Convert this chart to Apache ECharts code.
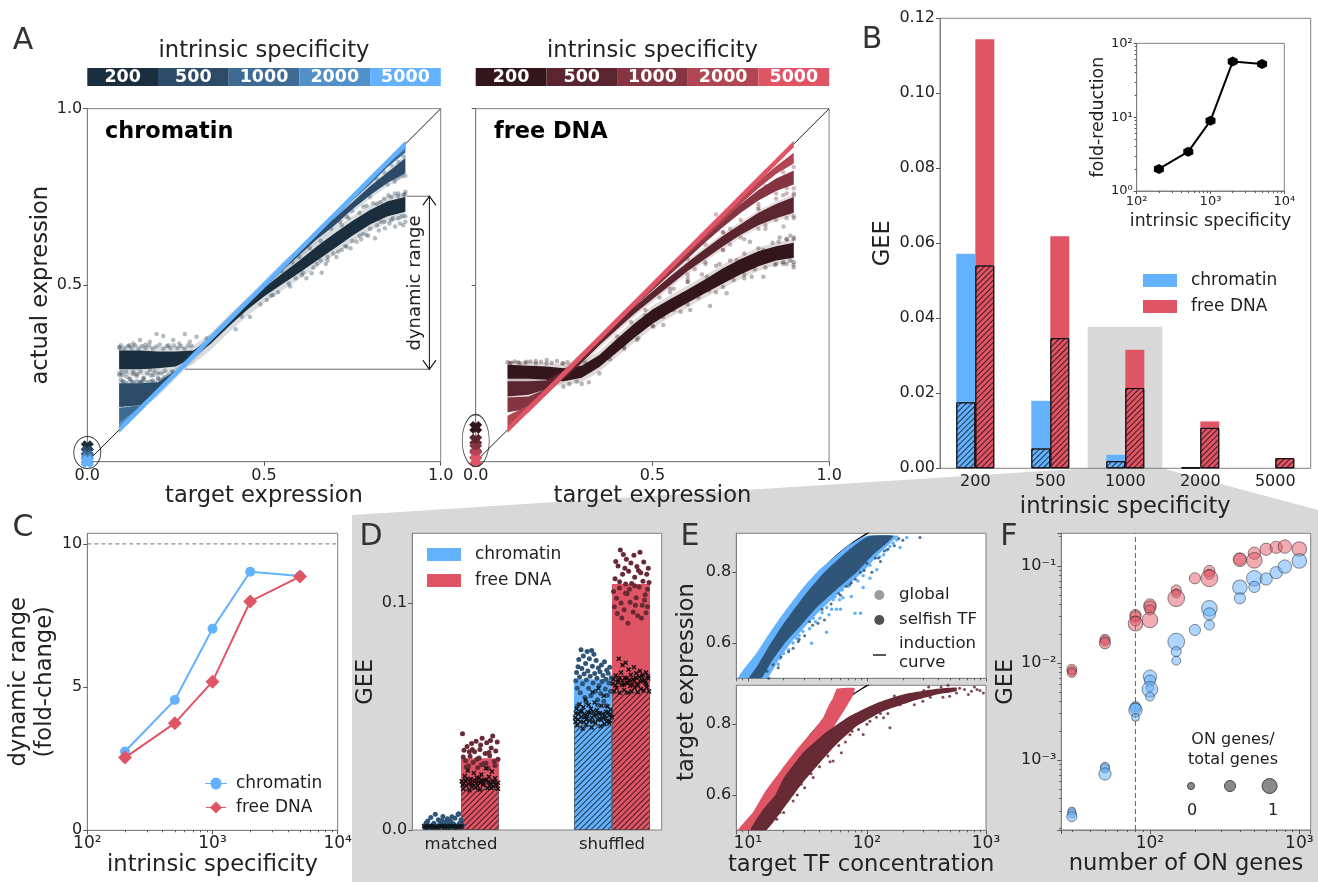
<!DOCTYPE html>
<html><head><meta charset="utf-8">
<style>html,body{margin:0;padding:0;background:#fff}#c{width:1318px;height:882px}</style>
<script src="https://cdn.jsdelivr.net/npm/echarts@6/dist/echarts.min.js"></script>
</head><body><div id="c"></div>
<script>
// ---------- DATA ----------
const specificity = ['200','500','1000','2000','5000'];
const specificityNum = [200,500,1000,2000,5000];
const blues = ['#1a2e3d','#2c4b68','#3e6b94','#5290c9','#64b1fd'];
const reds  = ['#33161b','#5a252e','#853541','#b14552','#e05566'];
const BLUE = '#64b1fd', RED = '#e05566', DARKB = '#2f5578', DARKR = '#682b35';

// Panel A: target-expression stations and the read-off dense band edges
const tx = [0.09,0.15,0.2,0.25,0.3,0.35,0.4,0.45,0.5,0.55,0.6,0.65,0.7,0.75,0.8,0.85,0.9];
const chrom200lo = [0.262,0.262,0.265,0.27,0.295,0.335,0.383,0.428,0.468,0.502,0.535,0.57,0.605,0.64,0.672,0.695,0.708];
const chrom200hi = [0.315,0.315,0.312,0.312,0.315,0.35,0.4,0.447,0.492,0.532,0.57,0.61,0.647,0.682,0.713,0.738,0.75];
const chrom500lo = [0.155,0.16,0.195,0.245,0.295,0.345,0.395,0.445,0.49,0.54,0.585,0.63,0.67,0.715,0.755,0.79,0.817];
const chrom500hi = [0.222,0.222,0.225,0.258,0.305,0.355,0.405,0.455,0.505,0.555,0.6,0.65,0.69,0.735,0.78,0.82,0.86];
const chrom1000lo = [0.105,0.145,0.195,0.245,0.295,0.345,0.395,0.445,0.495,0.545,0.595,0.645,0.69,0.74,0.785,0.835,0.875];
const chrom1000hi = [0.152,0.16,0.205,0.255,0.305,0.355,0.405,0.455,0.505,0.555,0.605,0.655,0.7,0.75,0.8,0.85,0.895];
const chrom2000lo = [0.09,0.145,0.195,0.245,0.295,0.345,0.395,0.445,0.495,0.545,0.595,0.645,0.695,0.745,0.795,0.845,0.885];
const chrom2000hi = [0.11,0.155,0.205,0.255,0.305,0.355,0.405,0.455,0.505,0.555,0.605,0.655,0.705,0.755,0.805,0.855,0.9];
const chrom5000lo = [0.081,0.141,0.191,0.241,0.291,0.341,0.391,0.441,0.491,0.541,0.591,0.641,0.691,0.741,0.791,0.841,0.891];
const chrom5000hi = [0.099,0.159,0.209,0.259,0.309,0.359,0.409,0.459,0.509,0.559,0.609,0.659,0.709,0.759,0.809,0.859,0.909];
const free200lo = [0.235,0.235,0.232,0.228,0.238,0.268,0.31,0.352,0.391,0.422,0.45,0.478,0.505,0.531,0.554,0.57,0.578];
const free200hi = [0.275,0.272,0.27,0.265,0.272,0.302,0.348,0.392,0.431,0.46,0.488,0.517,0.548,0.574,0.596,0.61,0.62];
const free500lo = [0.185,0.19,0.205,0.235,0.28,0.33,0.375,0.42,0.46,0.5,0.54,0.575,0.61,0.643,0.67,0.69,0.705];
const free500hi = [0.228,0.228,0.23,0.26,0.3,0.35,0.395,0.44,0.482,0.525,0.565,0.603,0.64,0.673,0.705,0.73,0.75];
const free1000lo = [0.14,0.15,0.19,0.24,0.29,0.34,0.39,0.44,0.485,0.53,0.575,0.622,0.665,0.705,0.74,0.767,0.785];
const free1000hi = [0.182,0.185,0.207,0.255,0.305,0.355,0.4,0.45,0.5,0.547,0.595,0.643,0.69,0.73,0.77,0.802,0.825];
const free2000lo = [0.095,0.14,0.19,0.24,0.29,0.34,0.39,0.44,0.49,0.54,0.59,0.635,0.682,0.73,0.775,0.815,0.845];
const free2000hi = [0.13,0.16,0.207,0.257,0.307,0.355,0.405,0.455,0.505,0.555,0.605,0.655,0.703,0.75,0.795,0.837,0.875];
const free5000lo = chrom5000lo, free5000hi = chrom5000hi;
const chromOff = [0.042,0.028,0.016,0.006,0.0];
const freeOff  = [0.097,0.061,0.038,0.019,0.003];
const chromSpeckle = [[.149,.345],[.196,.362],[.215,.356],[.276,.362],[.309,.354],[.338,.349],[.092,.321],[.13,.335],[.177,.34],[.243,.345],[.29,.34],[.111,.241],[.158,.236],[.206,.231],[.243,.25],[.13,.255],[.177,.26],[.092,.245],[.225,.236],[.149,.227],[.102,.227],[.187,.245],[.663,.535],[.635,.534],[.607,.529],[.574,.496],[.526,.472],[.508,.458],[.437,.411],[.734,.609],[.762,.623],[.814,.633],[.842,.661],[.871,.666],[.894,.67],[.79,.642],[.696,.59],[.715,.68],[.734,.694],[.809,.732],[.852,.755],[.88,.751],[.899,.758],[.781,.722],[.12,.33],[.165,.332],[.23,.33],[.26,.335],[.098,.255],[.14,.248],[.2,.25],[.105,.27],[.62,.52],[.65,.56],[.68,.57],[.72,.6],[.77,.64],[.83,.68],[.865,.69],[.89,.695],
[.42,.375],[.46,.41],[.49,.445],[.52,.47],[.54,.48],[.57,.505],[.59,.52],[.61,.535],[.64,.55],[.66,.57],[.68,.58],[.71,.595],[.73,.61],[.75,.625],[.78,.645],[.8,.66],[.82,.67],[.84,.68],[.86,.685],[.88,.69],[.9,.695],[.9,.68],[.885,.675],[.855,.675],[.825,.655],[.795,.64],[.775,.63],[.745,.605],[.705,.58],[.675,.56],
[.55,.54],[.58,.565],[.6,.58],[.63,.605],[.66,.625],[.69,.66],[.72,.67],[.74,.69],[.77,.705],[.79,.725],[.82,.73],[.84,.745],[.86,.75],[.88,.76],[.9,.765],[.895,.755],[.87,.76],[.83,.735],
[.09,.325],[.095,.33],[.105,.32],[.115,.328],[.125,.322],[.135,.33],[.145,.32],[.155,.328],[.165,.322],[.175,.33],[.185,.32],[.195,.326],[.205,.332],[.215,.32],[.225,.328],[.235,.322],[.245,.33],[.255,.322],[.265,.328],[.275,.32],[.285,.33],[.295,.328],
[.09,.25],[.1,.245],[.11,.255],[.12,.235],[.13,.248],[.14,.242],[.15,.255],[.16,.238],[.17,.25],[.18,.244],[.19,.256],[.2,.238],[.21,.25],[.22,.258],[.23,.244],[.24,.256],[.25,.252],[.095,.232],[.125,.228],[.155,.225],[.185,.23],[.215,.235]];
const chrom500Speckle = [[.1,.228],[.12,.235],[.14,.228],[.16,.232],[.18,.228],[.2,.235],[.22,.24],[.11,.222],[.13,.226],[.15,.224],[.17,.226],[.19,.224],[.1,.15],[.115,.148],[.13,.152],[.145,.15],[.87,.8],[.88,.805],[.89,.81],[.9,.81],[.895,.865],[.88,.85],[.86,.84],[.84,.82],[.82,.8],[.8,.75],[.77,.74],[.75,.71],[.85,.785],[.87,.793]];
const freeSpeckle = [[.663,.441],[.71,.477],[.781,.524],[.814,.524],[.847,.557],[.899,.557],[.607,.43],[.531,.387],[.503,.382],[.456,.345],[.857,.623],[.814,.6],[.739,.571],[.654,.524],[.588,.472],[.776,.623],[.248,.212],[.286,.227],[.324,.26],[.097,.279],[.144,.283],[.201,.288],[.248,.279],[.12,.282],[.17,.285],[.3,.22],[.265,.22],[.37,.3],[.42,.325],[.48,.415],[.55,.48],[.6,.51],[.69,.56],[.88,.63],[.9,.63],[.87,.56],
[.32,.225],[.35,.25],[.38,.29],[.42,.32],[.46,.35],[.5,.385],[.53,.41],[.56,.43],[.6,.445],[.63,.465],[.66,.485],[.7,.495],[.73,.515],[.76,.53],[.79,.545],[.82,.55],[.85,.56],[.87,.565],[.89,.57],[.9,.565],[.9,.55],[.88,.56],[.76,.52],[.68,.48],[.58,.425],
[.4,.355],[.44,.395],[.48,.43],[.52,.465],[.56,.49],[.6,.51],[.64,.53],[.68,.555],[.72,.57],[.76,.59],[.8,.605],[.84,.62],[.88,.63],[.9,.635],[.89,.64],[.86,.635],
[.09,.282],[.1,.28],[.11,.284],[.125,.278],[.14,.28],[.155,.284],[.17,.278],[.185,.283],[.2,.278],[.215,.28],[.23,.285],[.245,.278],[.26,.282],[.275,.275],[.29,.278],[.31,.28]];
const free500Speckle = [[.871,.666],[.9,.69],[.82,.66],[.76,.63],[.7,.6],[.65,.56],[.6,.52],[.7,.65],[.8,.72],[.88,.76],[.9,.755],[.55,.49],[.6,.53],[.65,.565],[.7,.6],[.75,.635],[.8,.66],[.85,.685],[.9,.695],[.88,.69],[.82,.67],[.72,.615],[.62,.545],[.6,.575],[.65,.615],[.7,.65],[.75,.685],[.8,.715],[.85,.745],[.9,.76],[.87,.755]];
const free1000Speckle = [[.85,.76],[.88,.775],[.9,.775],[.9,.835],[.87,.82],[.82,.78],[.78,.74],[.8,.73],[.72,.66],[.75,.745],[.68,.7]];

// Panel B
const gee_chrom_global = [0.0572,0.0180,0.0036,0.0002,0];
const gee_chrom_selfish = [0.0176,0.0053,0.0019,0.0002,0];
const gee_free_global = [0.1144,0.0619,0.0316,0.0125,0.0027];
const gee_free_selfish = [0.0541,0.0347,0.0214,0.0108,0.0027];
const foldReduction = [1.99,3.41,8.97,56.5,52.5];

// Panel C
const rangeChromatin = [2.75,4.55,7.04,9.03,8.88];
const rangeFree = [2.54,3.74,5.19,7.99,8.86];

// Panel D
const dCats = ['matched','shuffled'];
const dChromGlobal = [0.003,0.0665], dChromSelfish = [0.0007,0.0463];
const dFreeGlobal = [0.0316,0.1085], dFreeSelfish = [0.0184,0.061];
const dDotsBlue = [[-.24,.002],[-.22,.004],[-.21,.0015],[-.2,.0055],[-.18,.003],[-.17,.007],[-.16,.0012],[-.15,.0045],[-.13,.0025],[-.12,.006],[-.11,.002],[-.1,.0035],[-.09,.005],[-.08,.0015],[-.07,.004],[-.05,.0028],[-.04,.0052],[-.03,.0016],[-.02,.0068],[-.01,.003],[0,.0045],[.01,.002],[-.23,.0032],[-.19,.0018],[-.14,.0038],[-.06,.0058],[-.015,.0072],[-.235,.0012],[-.125,.0042],[-.075,.0024],
[.76,.0658],[.765,.0695],[.77,.0625],[.775,.072],[.78,.0752],[.785,.0675],[.79,.0605],[.795,.0795],[.8,.0712],[.805,.0645],[.81,.0768],[.815,.0688],[.82,.0585],[.825,.0735],[.83,.0662],[.835,.0788],[.84,.0702],[.845,.0625],[.85,.0755],[.855,.0678],[.86,.0592],[.865,.0792],[.87,.0722],[.875,.0648],[.88,.0775],[.885,.069],[.89,.0612],[.895,.0748],[.9,.067],[.905,.0575],[.91,.0715],[.915,.0638],[.92,.0698],[.925,.0602],[.93,.0728],[.935,.0655],[.94,.0682],[.945,.0568],[.95,.0742],[.955,.0622],[.96,.0665],[.965,.0705],[.97,.0595],[.975,.0692],[.98,.0648],[.985,.0718],[.99,.0612],[.995,.0672],[.772,.0548],[.83,.0562],[.905,.0552],[.962,.0548]];
const dDotsRed = [[.01,.0425],[.02,.0352],[.03,.0305],[.04,.0368],[.05,.0282],[.06,.0325],[.07,.0382],[.08,.0298],[.09,.0345],[.1,.0392],[.11,.0275],[.12,.0318],[.13,.0375],[.14,.0405],[.15,.0292],[.16,.0338],[.17,.0385],[.18,.0272],[.19,.0328],[.2,.0362],[.21,.0415],[.22,.0302],[.23,.0348],[.24,.0388],[.245,.0312],[.035,.0278],[.075,.0355],[.105,.0312],[.135,.0288],[.165,.0295],[.195,.0395],[.225,.0285],[.015,.0322],[.055,.0345],[.125,.0355],[.185,.0342],
[1.01,.1052],[1.015,.0985],[1.02,.1108],[1.03,.1022],[1.035,.0955],[1.04,.1165],[1.05,.1068],[1.055,.1235],[1.06,.1002],[1.07,.1128],[1.075,.1215],[1.08,.0972],[1.09,.1085],[1.095,.1195],[1.1,.1042],[1.105,.0912],[1.11,.1142],[1.12,.1005],[1.125,.1178],[1.13,.1088],[1.14,.0962],[1.145,.1212],[1.15,.1115],[1.16,.1025],[1.165,.1162],[1.17,.0945],[1.18,.1072],[1.185,.1225],[1.19,.1135],[1.2,.0992],[1.205,.1098],[1.21,.1182],[1.22,.1038],[1.225,.0958],[1.23,.1128],[1.235,.1062],[1.24,.1155],[1.245,.1092],[1.05,.1095],[1.085,.1155],[1.115,.1062],[1.15,.1078],[1.175,.1145],[1.215,.1015],[1.065,.0935],[1.195,.0935],[1.025,.1185],[1.09,.1045],[1.155,.0992],[1.235,.0985]];
const dCrossBlue = [[-.245,.0016],[-.225,.0014],[-.205,.0019],[-.185,.0013],[-.165,.0017],[-.145,.0015],[-.125,.0018],[-.105,.0013],[-.085,.0016],[-.065,.0014],[-.045,.0018],[-.025,.0015],[-.005,.0017],[-.235,.0013],[-.195,.0016],[-.155,.0013],[-.115,.0016],[-.075,.0018],[-.035,.0013],[.005,.0015],[-.215,.0017],[-.175,.0014],[-.135,.0016],[-.095,.0015],[-.055,.0016],[-.015,.0014],
[.755,.0495],[.765,.0535],[.77,.0462],[.78,.0512],[.785,.0555],[.79,.0478],[.8,.0525],[.805,.0448],[.81,.0542],[.82,.0498],[.825,.0575],[.83,.0465],[.84,.0518],[.845,.0552],[.85,.0482],[.86,.0535],[.865,.0452],[.87,.0608],[.88,.0505],[.885,.0562],[.89,.0472],[.9,.0528],[.905,.0488],[.91,.0625],[.92,.0515],[.925,.0458],[.93,.0548],[.94,.0495],[.945,.0592],[.95,.0468],[.96,.0522],[.965,.0478],[.97,.0545],[.98,.0505],[.985,.0482],[.99,.0532],[.998,.0498],
[.76,.0515],[.775,.0488],[.788,.0522],[.797,.0498],[.815,.0512],[.828,.0488],[.838,.0502],[.852,.0518],[.868,.0495],[.875,.0522],[.893,.0508],[.908,.0515],[.918,.0492],[.935,.0512],[.952,.0505],[.958,.0492],[.975,.0518],[.992,.0512],[.758,.0478],[.812,.0475],[.872,.0478],[.928,.0485],[.982,.0472]];
const dCrossRed = [[.005,.0215],[.015,.0182],[.025,.0238],[.035,.0195],[.045,.0262],[.055,.0175],[.065,.0225],[.075,.0205],[.085,.0252],[.095,.0188],[.105,.0232],[.115,.0212],[.125,.0178],[.135,.0245],[.145,.0198],[.155,.0222],[.165,.0272],[.175,.0185],[.185,.0235],[.195,.0208],[.205,.0258],[.215,.0192],[.225,.0228],[.235,.0202],[.245,.0182],[.02,.0205],[.06,.0212],[.1,.0205],[.14,.0218],[.18,.0212],[.22,.0212],
[.01,.0198],[.03,.0218],[.05,.0202],[.07,.0192],[.09,.0218],[.11,.0195],[.13,.0208],[.15,.0205],[.17,.0222],[.19,.0195],[.21,.0215],[.23,.0198],[.245,.0208],[.04,.0225],[.12,.0228],[.2,.0185],
[1.005,.0645],[1.015,.0612],[1.025,.0682],[1.03,.0628],[1.04,.0662],[1.045,.0755],[1.05,.0605],[1.06,.0695],[1.065,.064],[1.07,.0728],[1.08,.0618],[1.085,.0672],[1.09,.0738],[1.1,.065],[1.105,.0605],[1.11,.0708],[1.12,.0635],[1.125,.0685],[1.13,.0612],[1.14,.0665],[1.145,.0718],[1.15,.0628],[1.16,.0692],[1.165,.0645],[1.17,.0608],[1.18,.0675],[1.185,.0702],[1.19,.0622],[1.2,.0658],[1.205,.0685],[1.21,.0615],[1.22,.0648],[1.225,.0695],[1.23,.063],[1.24,.0668],[1.245,.0612],
[1.01,.0665],[1.022,.0638],[1.038,.0652],[1.052,.0672],[1.068,.0658],[1.078,.0642],[1.095,.0668],[1.108,.0648],[1.118,.0662],[1.135,.0642],[1.148,.0658],[1.158,.0672],[1.172,.0638],[1.188,.0655],[1.198,.0678],[1.215,.0662],[1.228,.0642],[1.238,.0678]];

// Panel E (concentration, expression)
const inductionC = [10,12,15,20,30,40,50,70,100,120];
const inductionY = [0.5,0.545,0.6,0.667,0.75,0.8,0.833,0.875,0.909,0.923];
const eTopGlobal = [[8.3,.5],[11.8,.571],[14,.61],[19,.675],[28,.75],[38,.8],[50,.835],[70,.876],[99.4,.903],[185,.903],[160,.885],[125,.85],[92,.8],[62,.75],[43,.7],[31,.65],[23,.6],[18,.55],[14.5,.5]];
const eTopSelfish = [[10,.495],[12,.535],[15,.59],[20,.655],[30,.735],[40,.785],[50,.818],[70,.862],[90,.89],[106,.903],[166,.903],[146,.882],[113,.85],[82,.8],[55,.75],[37.8,.7],[28,.65],[20.5,.6],[16,.55],[13,.5]];
const eTopScatterGlobal = [[34.3,.599],[45.8,.63],[55.5,.695],[60,.695],[50.5,.695],[79.4,.684],[88.4,.684],[93,.757],[106,.783],[121,.807],[128,.844],[216,.898],[166,.882],[190,.87],[146,.863],[138,.849],[35.4,.67],[40.3,.67],[29,.632],[25.7,.613],[18.6,.557],[63,.728],[74,.731],[52,.722],[59,.722],[106,.82],[93,.79],[156,.873],[178,.891],[70,.76],[84,.775],[48,.68],[33,.64],[22,.58],[14,.52],[13,.51],[18,.54],[20,.57],[24,.6],[27,.62],[37,.66],[42,.685],[46,.7],[54,.73],[62,.75],[68,.77],[78,.785],[90,.81],[100,.83],[116,.84],[135,.87]];
const eTopScatterSelfish = [[279,.898],[38.8,.656],[26.5,.604],[16.3,.538],[60,.735],[110,.8],[130,.83],[170,.875],[200,.89],[44,.665],[30,.62],[19,.56],[14.5,.52],[15,.5],[74,.77],[88,.8],[100,.825],[24,.585],[35,.65],[50,.71],[67,.76],[80,.78],[125,.84],[150,.865],[185,.895],[18,.53],[22,.575],[27,.61],[33,.66],[42,.695],[58,.74],[72,.765],[95,.805],[118,.84],[140,.86]];
const eBotGlobal = [[8.3,.5],[11,.55],[14,.61],[19,.67],[26,.73],[35,.78],[43,.82],[48,.855],[52,.875],[56,.9],[79,.902],[76,.88],[62,.83],[50,.78],[38,.72],[28,.66],[20,.6],[14.5,.54],[11.5,.5]];
const eBotSelfish = [[10.5,.5],[13.5,.56],[17,.6],[19.8,.645],[29,.719],[43,.771],[72,.823],[121,.86],[201,.884],[386,.9],[565,.904],[565,.893],[386,.884],[230,.863],[138,.837],[82,.794],[55.5,.743],[40.3,.691],[29,.635],[19.8,.56],[14.3,.5]];
const eBotScatterSelfish = [[950,.888],[840,.898],[755,.893],[710,.884],[660,.898],[565,.888],[435,.876],[340,.876],[156,.79],[93,.771],[61,.719],[52,.696],[49,.694],[35.4,.649],[24,.583],[18.6,.55],[17.5,.531],[106,.808],[138,.818],[230,.874],[295,.865],[495,.879],[600,.902],[800,.905],[890,.895],[420,.905],[300,.895],[170,.88],[250,.855],[120,.82],[75,.78],[45,.72],[30,.62],[28,.63],[40,.68],[66,.75],[85,.785],[150,.83],[190,.855],[330,.905],[480,.91],[20,.55],[26,.6],[34,.66],[47,.71],[58,.74],[72,.77],[100,.8],[130,.83]];

// Panel F (ON genes, GEE, marker size)
const fRed = [[30,.00861,9],[30,.00827,8],[30,.00788,8],[50,.01754,9],[50,.01687,9],[50,.01596,10],[80,.03126,10],[80,.03005,10],[80,.0271,9],[80,.02543,13],[100,.0396,11],[100,.03777,11],[100,.03518,9],[100,.02775,14],[150,.0566,9],[150,.05226,8],[150,.04644,15],[200,.0746,10],[250,.0888,10],[250,.082,9],[250,.0746,15],[400,.118,11],[400,.1153,12],[500,.1352,11],[500,.1143,14],[600,.1486,11],[700,.1557,11],[800,.1583,12],[1000,.1497,13]];
const fBlue = [[30,.000298,7],[30,.000282,8],[30,.000261,9],[50,.000853,8],[50,.00082,8],[50,.000718,11],[80,.00355,9],[80,.00341,10],[80,.00327,12],[80,.00275,7],[100,.00723,12],[100,.00658,10],[100,.00557,7],[100,.00535,14],[100,.0045,8],[150,.0166,15],[150,.0131,9],[150,.01057,8],[200,.0219,10],[250,.0366,14],[250,.032,11],[250,.0246,9],[400,.0603,13],[400,.0464,10],[500,.0746,14],[500,.0608,10],[600,.0734,11],[700,.0853,11],[800,.0984,12],[1000,.1127,13]];
const fVertical = 80;

// tick sets
const minorDec2 = [200,300,400,500,600,700,800,900,2000,3000,4000,5000,6000,7000,8000,9000];
const minorDec0 = [2,3,4,5,6,7,8,9,20,30,40,50,60,70,80,90];
const minorE = [9,20,30,40,50,60,70,80,90,200,300,400,500,600,700,800,900];
const minorFx = [30,40,50,60,70,80,90,200,300,400,500,600,700,800,900];
const minorFy = [2e-4,3e-4,4e-4,5e-4,6e-4,7e-4,8e-4,9e-4,2e-3,3e-3,4e-3,5e-3,6e-3,7e-3,8e-3,9e-3,.02,.03,.04,.05,.06,.07,.08,.09,.2];

// ---------- BUILD ----------
const FONT = '"DejaVu Sans"', TXT = '#222', FRAME = '#808080', TICK='#555';
const NAME = 22.6;
const grids=[], xAxes=[], yAxes=[], series=[], gfx=[];
const SUP={'0':'⁰','1':'¹','2':'²','3':'³','4':'⁴','-':'⁻'};
function pow10(v){const e=Math.log10(v);const r=Math.round(e);if(Math.abs(e-r)>1e-6)return '';return '10'+String(r).split('').map(c=>SUP[c]).join('');}
function baseAxis(extra,pos){
  const a={position:pos,axisLine:{onZero:false,lineStyle:{color:FRAME,width:1}},axisTick:{length:4,lineStyle:{color:TICK,width:1}},
    axisLabel:{color:TXT,fontSize:16,margin:5,fontFamily:FONT,padding:pos==='left'?[2,0,0,0]:0},splitLine:{show:false},
    nameLocation:'middle',nameTextStyle:{color:TXT,fontSize:NAME,fontFamily:FONT}};
  for(const k in extra){ if(typeof extra[k]==='object'&&a[k]&&!Array.isArray(extra[k])) a[k]=Object.assign({},a[k],extra[k]); else a[k]=extra[k]; }
  return a;
}
function grid(l,t,w,h,xa,ya,o){
  o=o||{};
  const i=grids.length;
  grids.push({left:l,top:t,width:w,height:h,show:o.frame!==false,borderColor:FRAME,borderWidth:1,backgroundColor:o.bg||'transparent'});
  xAxes.push(Object.assign(baseAxis(xa,'bottom'),{gridIndex:i}));
  yAxes.push(Object.assign(baseAxis(ya,'left'),{gridIndex:i}));
  return {g:i,x:xAxes.length-1,y:yAxes.length-1};
}
function minorX(g,vals,min,max,type){ xAxes.push({gridIndex:g.g,type:type||'log',min,max,position:'bottom',axisLine:{show:false},axisLabel:{show:false},splitLine:{show:false},axisTick:{show:true,length:2,lineStyle:{color:TICK},customValues:vals}}); }
function minorY(g,vals,min,max){ yAxes.push({gridIndex:g.g,type:'log',min,max,position:'left',axisLine:{show:false},axisLabel:{show:false},splitLine:{show:false},axisTick:{show:true,length:2,lineStyle:{color:TICK},customValues:vals}}); }
let zc=3;
function poly(ax,name,pts,color,opacity,smooth){
  series.push({type:'custom',name,xAxisIndex:ax.x,yAxisIndex:ax.y,coordinateSystem:'cartesian2d',silent:true,clip:true,z:zc++,
    data:pts,encode:{x:0,y:1},
    renderItem:(p,api)=>{ if(p.dataIndex!==0) return null;
      return {type:'polygon',shape:{points:pts.map(q=>api.coord(q)),smooth:smooth||0},style:{fill:color,opacity:opacity==null?1:opacity,stroke:null}}; }});
}
function band(ax,name,lo,hi,color,opacity){
  const pts=tx.map((x,i)=>[x,lo[i]]).concat(tx.map((x,i)=>[x,hi[i]]).reverse());
  poly(ax,name,pts,color,opacity,0);
}
function scat(ax,name,data,o){
  series.push({type:'scatter',name,xAxisIndex:ax.x,yAxisIndex:ax.y,data,symbol:o.symbol||'circle',symbolSize:o.size,clip:!!o.clip,silent:true,z:o.z||zc++,
    itemStyle:Object.assign({color:o.color,opacity:o.opacity==null?1:o.opacity},o.style||{})});
}
function text(x,y,t,size,o){
  o=o||{};
  gfx.push({type:'text',x,y,rotation:o.rot||0,z:50,silent:true,style:{text:t,fill:o.fill||TXT,font:(o.bold?'bold ':'')+size+'px '+FONT,textAlign:o.align||'center',textVerticalAlign:'middle'}});
}
const XMARK='path://M3,0 L5,2 L7,0 L10,3 L8,5 L10,7 L7,10 L5,8 L3,10 L0,7 L2,5 L0,3 Z';
const XTHIN='path://M2,0 L5,3 L8,0 L10,2 L7,5 L10,8 L8,10 L5,7 L2,10 L0,8 L3,5 L0,2 Z';
const HEX='path://M5,0 L9.5,2.5 L9.5,7.5 L5,10 L0.5,7.5 L0.5,2.5 Z';
const hatch=(c)=>({symbol:'rect',symbolSize:1,rotation:-Math.PI/4,dashArrayX:[1,0],dashArrayY:[0.9,2.5],color:c||'rgba(0,0,0,.7)'});

// background wedge
gfx.push({type:'polygon',z:-100,silent:true,shape:{points:[[352,515],[1087.7,468.3],[1087.7,326.7],[1162.3,326.7],[1162.3,468.3],[1318,510],[1318,882],[352,882]]},style:{fill:'#d8d8d8'}});

// Colour strips
function strip(l,cols){
  const a=grid(l,68,353.5,18,{type:'category',data:specificity,show:false},{type:'value',min:0,max:1,show:false},{frame:false});
  series.push({type:'bar',xAxisIndex:a.x,yAxisIndex:a.y,barWidth:'100%',silent:true,z:3,
    data:specificity.map((s,i)=>({value:1,itemStyle:{color:cols[i]}})),
    label:{show:true,position:'inside',formatter:p=>p.name,color:'#fff',fontSize:17.5,fontWeight:'bold',fontFamily:FONT}});
}
strip(87.3,blues); strip(475.7,reds);
text(264,51,'intrinsic specificity',NAME); text(652.5,51,'intrinsic specificity',NAME);

// Panel A
function panelA(l,showY,ellY,ellH,off,cols,bands){
  const f=v=>v.toFixed(1);
  const a=grid(l,108.7,353.4,353,
    {type:'value',min:0,max:1,interval:0.5,name:'target expression',nameGap:22,axisLabel:{formatter:f,margin:6}},
    {type:'value',min:0,max:1,interval:0.5,name:showY?'actual expression':'',nameGap:32,axisLabel:{show:showY,formatter:v=>v===0?'':f(v)}});
  series.push({type:'line',name:'identity',xAxisIndex:a.x,yAxisIndex:a.y,data:[[0,0],[1,1]],showSymbol:false,silent:true,z:2,lineStyle:{color:'#222',width:1}});
  bands(a);
  off.forEach((v,i)=>scat(a,'unbound '+specificity[i],[[0,v]],{color:cols[i],size:13,symbol:XMARK}));
  series.push({type:'scatter',name:'off group',xAxisIndex:a.x,yAxisIndex:a.y,clip:false,silent:true,z:40,data:[[0,ellY]],symbol:'circle',symbolSize:[27,ellH],itemStyle:{color:'transparent',borderColor:'#111',borderWidth:1}});
  return a;
}
const aL=panelA(87.3,true,0.026,32,chromOff,blues,(a)=>{
  band(a,'200 halo',chrom200lo.map(v=>v-.018),chrom200hi.map(v=>v+.014),blues[0],.16);
  band(a,'200',chrom200lo,chrom200hi,blues[0]);
  band(a,'500 halo',chrom500lo.map(v=>v-.01),chrom500hi.map(v=>v+.008),blues[1],.18);
  scat(a,'200 points',chromSpeckle,{color:blues[0],size:4.5,opacity:.32});
  scat(a,'500 points',chrom500Speckle,{color:blues[1],size:4.5,opacity:.32});
  band(a,'500',chrom500lo,chrom500hi,blues[1]);
  band(a,'1000',chrom1000lo,chrom1000hi,blues[2]);
  band(a,'2000',chrom2000lo,chrom2000hi,blues[3]);
  band(a,'5000',chrom5000lo,chrom5000hi,blues[4]);
});
panelA(475.7,false,0.06,52,freeOff,reds,(a)=>{
  band(a,'200 halo',free200lo.map(v=>v-.013),free200hi.map(v=>v+.011),reds[0],.16);
  band(a,'200',free200lo,free200hi,reds[0]);
  scat(a,'200 points',freeSpeckle,{color:reds[0],size:4.5,opacity:.32});
  band(a,'500 halo',free500lo.map(v=>v-.008),free500hi.map(v=>v+.007),reds[1],.16);
  scat(a,'500 points',free500Speckle,{color:reds[1],size:4.5,opacity:.32});
  band(a,'500',free500lo,free500hi,reds[1]);
  scat(a,'1000 points',free1000Speckle,{color:reds[2],size:4.5,opacity:.35});
  band(a,'1000',free1000lo,free1000hi,reds[2]);
  band(a,'2000',free2000lo,free2000hi,reds[3]);
  band(a,'5000',free5000lo,free5000hi,reds[4]);
});
// dynamic range annotation
const drLow=0.262, drHigh=0.752, drX=0.968;
series.push({type:'line',xAxisIndex:aL.x,yAxisIndex:aL.y,silent:true,z:2,showSymbol:false,data:[[0.276,drLow],[drX,drLow]],lineStyle:{color:'#666',width:1}});
series.push({type:'line',xAxisIndex:aL.x,yAxisIndex:aL.y,silent:true,z:2,showSymbol:false,data:[[0.904,drHigh],[drX,drHigh]],lineStyle:{color:'#666',width:1}});
series.push({type:'line',xAxisIndex:aL.x,yAxisIndex:aL.y,silent:true,z:2,showSymbol:false,data:[[drX,drLow],[drX,drHigh]],lineStyle:{color:'#111',width:1}});
scat(aL,'arrow up',[[drX,drHigh]],{symbol:'path://M0,10 L10,0 L20,10',size:[13,9],color:'transparent',z:30,style:{borderColor:'#111',borderWidth:1,opacity:1}});
series[series.length-1].symbolOffset=[0,4.5];
scat(aL,'arrow down',[[drX,drLow]],{symbol:'path://M0,0 L10,10 L20,0',size:[13,9],color:'transparent',z:30,style:{borderColor:'#111',borderWidth:1,opacity:1}});
series[series.length-1].symbolOffset=[0,-4.5];
text(415,283,'dynamic range',18,{rot:Math.PI/2});
text(105,132,'chromatin',22.4,{bold:true,align:'left',fill:'#000'});
text(494,132,'free DNA',22.4,{bold:true,align:'left',fill:'#000'});

// Panel B
const bFrame=grid(940,18.3,370.7,450,{type:'value',min:0,max:1,show:false},
  {type:'value',min:0,max:0.12,interval:0.02,name:'GEE',nameGap:45,axisLabel:{formatter:v=>v.toFixed(2)}});
const bBars=grid(937.8,18.3,375,450,{type:'category',data:specificity,name:'intrinsic specificity',nameGap:20,axisLine:{show:false},axisTick:{alignWithLabel:true,length:4},axisLabel:{margin:6}},
  {type:'value',min:0,max:0.12,show:false},{frame:false});
function stackBars(ax,stack,name,sel,glob,col,w,edge){
  series.push({type:'bar',name:name+' selfish',stack,xAxisIndex:ax.x,yAxisIndex:ax.y,data:sel.map(v=>v||null),barWidth:w,barGap:0,silent:true,z:4,
    itemStyle:{color:col,borderColor:edge,borderWidth:1,decal:hatch()}});
  series.push({type:'bar',name,stack,xAxisIndex:ax.x,yAxisIndex:ax.y,data:glob.map((v,i)=>v-sel[i]),barWidth:w,barGap:0,silent:true,z:3,
    itemStyle:{color:col}});
}
stackBars(bBars,'bc','chromatin',gee_chrom_selfish,gee_chrom_global,BLUE,19,'rgba(0,0,0,.8)');
stackBars(bBars,'br','free DNA',gee_free_selfish,gee_free_global,RED,19,'rgba(0,0,0,.8)');
// inset
const inset=grid(1136.7,43.3,147.6,147.7,
  {type:'log',min:100,max:10000,name:'intrinsic specificity',nameGap:22,nameTextStyle:{fontSize:17.3},axisLabel:{fontSize:13,margin:4,formatter:pow10},axisTick:{length:3}},
  {type:'log',min:1,max:100,name:'fold-reduction',nameGap:26,nameTextStyle:{fontSize:17.3},axisLabel:{fontSize:13,margin:4,formatter:pow10},axisTick:{length:3}},{bg:'#fff'});
minorX(inset,minorDec2,100,10000); minorY(inset,minorDec0,1,100);
series.push({type:'line',name:'fold-reduction',xAxisIndex:inset.x,yAxisIndex:inset.y,data:specificityNum.map((s,i)=>[s,foldReduction[i]]),symbol:HEX,symbolSize:10,silent:true,z:6,lineStyle:{color:'#000',width:2},itemStyle:{color:'#000'}});

// Panel C
const pc=grid(87.3,533.3,250.4,297,
  {type:'log',min:100,max:10000,name:'intrinsic specificity',nameGap:21,axisLabel:{formatter:pow10,margin:5,fontSize:17}},
  {type:'value',min:0,max:10.37,name:'dynamic range\n(fold-change)',nameGap:29,nameTextStyle:{lineHeight:26},axisLabel:{customValues:[0,5,10],fontSize:16},axisTick:{customValues:[0,5,10]}});
minorX(pc,minorDec2,100,10000);
series.push({type:'line',name:'chromatin',xAxisIndex:pc.x,yAxisIndex:pc.y,silent:true,z:5,data:specificityNum.map((s,i)=>[s,rangeChromatin[i]]),symbol:'circle',symbolSize:10,lineStyle:{color:BLUE,width:2},itemStyle:{color:BLUE}});
series.push({type:'line',name:'free DNA',xAxisIndex:pc.x,yAxisIndex:pc.y,silent:true,z:6,data:specificityNum.map((s,i)=>[s,rangeFree[i]]),symbol:'diamond',symbolSize:14,lineStyle:{color:RED,width:2},itemStyle:{color:RED}});
series.push({type:'line',name:'maximum',xAxisIndex:pc.x,yAxisIndex:pc.y,silent:true,z:4,showSymbol:false,data:[[100,10],[10000,10]],lineStyle:{color:'#777',width:1,type:[4,3]}});

// Panel D
const dMinX=-0.3225, dMaxX=1.329;
const dFrame=grid(412.3,533.3,249.4,296.7,{type:'value',min:dMinX,max:dMaxX,show:false},
  {type:'value',min:0,max:0.1309,name:'GEE',nameGap:34,axisLabel:{customValues:[0,0.1],formatter:v=>v.toFixed(1)},axisTick:{customValues:[0,0.1]}},{bg:'#fff'});
const dBars=grid(385.5,533.3,302,296.7,{type:'category',data:dCats,axisLine:{show:false},axisTick:{alignWithLabel:true,length:4},axisLabel:{margin:6,fontSize:16.5}},
  {type:'value',min:0,max:0.1309,show:false},{frame:false});
stackBars(dBars,'dc','chromatin',dChromSelfish,dChromGlobal,BLUE,38,'rgba(0,0,0,.25)');
stackBars(dBars,'dr','free DNA',dFreeSelfish,dFreeGlobal,RED,38,'rgba(0,0,0,.25)');
scat(dFrame,'global chromatin',dDotsBlue,{color:DARKB,size:5,z:10});
scat(dFrame,'global free DNA',dDotsRed,{color:DARKR,size:5,z:10});
scat(dFrame,'selfish chromatin',dCrossBlue,{color:'#10181e',size:5,symbol:XTHIN,z:11});
scat(dFrame,'selfish free DNA',dCrossRed,{color:'#1a0d0f',size:5,symbol:XTHIN,z:11});

// Panel E
function panelE(t,h,labels){
  const a=grid(736.3,t,249.7,h,
    {type:'log',min:8,max:1000,name:labels?'target TF concentration':'',nameGap:22,axisLabel:{show:labels,formatter:pow10,fontSize:17},axisTick:{length:labels?4:3}},
    {type:'value',min:0.5,max:0.91,axisLabel:{customValues:[0.6,0.8],formatter:v=>v.toFixed(1)},axisTick:{customValues:[0.6,0.8]}},{bg:'#fff'});
  minorX(a,minorE,8,1000);
  return a;
}
const eT=panelE(533.3,145,false), eB=panelE(685.3,145,true);
poly(eT,'global',eTopGlobal,BLUE,1,0.15);
scat(eT,'global points',eTopScatterGlobal,{color:BLUE,size:3.5,clip:true});
poly(eT,'selfish TF',eTopSelfish,DARKB,1,0.15);
scat(eT,'selfish points',eTopScatterSelfish,{color:DARKB,size:3,opacity:.85,clip:true});
series.push({type:'line',name:'induction curve',xAxisIndex:eT.x,yAxisIndex:eT.y,data:inductionC.map((c,i)=>[c,inductionY[i]]),smooth:true,showSymbol:false,silent:true,clip:true,z:30,lineStyle:{color:'#000',width:1.3}});
poly(eB,'global',eBotGlobal,RED,1,0.15);
poly(eB,'selfish TF',eBotSelfish,DARKR,1,0.15);
scat(eB,'selfish points',eBotScatterSelfish,{color:DARKR,size:3,opacity:.85,clip:true});
series.push({type:'line',name:'induction curve',xAxisIndex:eB.x,yAxisIndex:eB.y,data:inductionC.map((c,i)=>[c,inductionY[i]]),smooth:true,showSymbol:false,silent:true,clip:true,z:30,lineStyle:{color:'#000',width:1.3}});
text(687,682,'target expression',NAME,{rot:Math.PI/2});
gfx.push({type:'circle',z:50,silent:true,shape:{cx:879.3,cy:595,r:5},style:{fill:'rgba(90,90,90,.6)'}});
gfx.push({type:'circle',z:50,silent:true,shape:{cx:879.3,cy:620,r:5},style:{fill:'rgba(50,50,50,.85)'}});
gfx.push({type:'line',z:50,silent:true,shape:{x1:873,y1:655,x2:886,y2:655},style:{stroke:'#000',lineWidth:1.3}});
text(899,595,'global',16.6,{align:'left'}); text(899,620,'selfish TF',16.6,{align:'left'});
text(899,644,'induction',16.6,{align:'left'}); text(899,663,'curve',16.6,{align:'left'});

// Panel F
const fXmin=25.5,fXmax=1192,fYmin=1.9e-4,fYmax=0.217;
const pf=grid(1061.3,533.3,249.4,296.7,
  {type:'log',min:fXmin,max:fXmax,name:'number of ON genes',nameGap:22,axisLabel:{formatter:pow10,fontSize:17}},
  {type:'log',min:fYmin,max:fYmax,name:'GEE',nameGap:43,axisLabel:{formatter:pow10,fontSize:16}},{bg:'#fff'});
minorX(pf,minorFx,fXmin,fXmax); minorY(pf,minorFy,fYmin,fYmax);
series.push({type:'line',name:'threshold',xAxisIndex:pf.x,yAxisIndex:pf.y,silent:true,z:3,showSymbol:false,data:[[fVertical,fYmin],[fVertical,fYmax]],lineStyle:{color:'#666',width:1,type:[5,3]}});
const bub=(name,data,col)=>series.push({type:'scatter',name,xAxisIndex:pf.x,yAxisIndex:pf.y,silent:true,z:6,data,symbolSize:d=>d[2]*1.12,itemStyle:{color:col,borderColor:'rgba(40,40,40,.65)',borderWidth:1}});
bub('free DNA',fRed,'rgba(224,85,102,.62)');
bub('chromatin',fBlue,'rgba(100,177,253,.65)');
text(1233,740,'ON genes/',16); text(1233,760,'total genes',16);
[[1191,7],[1230,11],[1269.6,15]].forEach(q=>gfx.push({type:'circle',z:50,silent:true,shape:{cx:q[0],cy:786,r:q[1]/2},style:{fill:'#8a8a8a',stroke:'#444',lineWidth:1}}));
text(1192,811,'0',16); text(1273,811,'1',16);

// Letters
[['A',23,41],['B',872,40],['C',23,528],['D',371,537],['E',690,537],['F',1009,537]].forEach(q=>text(q[1],q[2],q[0],30,{fill:'#333'}));

// Legends
const LEG=(l,t,data,o)=>Object.assign({left:l,top:t,orient:'vertical',selectedMode:false,data,
  textStyle:{color:TXT,fontSize:17,fontFamily:FONT,padding:[0,0,0,9]},itemWidth:34,itemHeight:13,itemGap:9},o||{});
const rectLeg=[{name:'chromatin',icon:'rect',itemStyle:{color:BLUE,decal:'none',borderWidth:0}},{name:'free DNA',icon:'rect',itemStyle:{color:RED,decal:'none',borderWidth:0}}];
const lineCircle='path://M0,5 H5.5 A5.5,5.5 0 0 1 16.5,5 H22 V6 H16.5 A5.5,5.5 0 0 1 5.5,6 H0 Z';
const lineDiamond='path://M0,5 H5 L11,-1 L17,5 H22 V6 H17 L11,12 L5,6 H0 Z';

const chart=echarts.init(document.getElementById('c'),null,{renderer:'canvas'});
chart.setOption({animation:false,backgroundColor:'#fff',textStyle:{fontFamily:FONT},
  grid:grids,xAxis:xAxes,yAxis:yAxes,series,graphic:{elements:gfx},
  legend:[LEG(1138,267,rectLeg),LEG(422,541,rectLeg),
    LEG(200,770,[{name:'chromatin',icon:lineCircle,itemStyle:{color:BLUE}},{name:'free DNA',icon:lineDiamond,itemStyle:{color:RED}}],{itemWidth:22,itemHeight:12,itemGap:7,textStyle:{color:TXT,fontSize:17,fontFamily:FONT,padding:[0,0,0,4]}})]
});
</script></body></html>
